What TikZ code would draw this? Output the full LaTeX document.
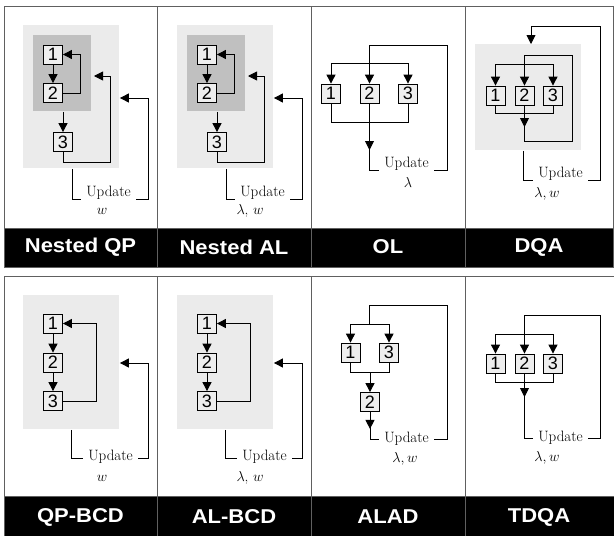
\documentclass[tikz,border=0pt]{standalone}
\usepackage{fontspec}
\newfontfamily\tagfont[FakeStretch=1.1]{Liberation Sans}
\newfontfamily\digfont{Liberation Sans}
\usetikzlibrary{arrows.meta,positioning,calc}
\definecolor{lgray}{HTML}{EBEBEB}
\definecolor{dgray}{HTML}{C0C0C0}
\definecolor{bgray}{HTML}{EEEEEE}
\definecolor{rulec}{HTML}{606060}

\begin{document}
\begin{tikzpicture}[x=1pt,y=-1pt,>={Triangle[length=9pt,width=9pt]},line width=0.9pt,
 blk/.style={draw,fill=bgray,minimum size=19pt,inner sep=0pt,line width=0.8pt,font=\digfont\fontsize{18}{18}\selectfont},
 outer/.style={fill=lgray,inner sep=0pt,anchor=north west},
 inner/.style={fill=dgray,inner sep=0pt,anchor=north west},
 upd/.style={font=\fontsize{15}{16}\selectfont,inner xsep=5pt,inner ysep=0pt,anchor=base},
 tag/.style={text=white,font=\tagfont\bfseries\fontsize{20}{20}\selectfont}]
\useasboundingbox (0,0) rectangle (614,536);
% frames
\fill (4,228) rectangle (613,267);\fill (4,496) rectangle (614,536);
\draw[rulec] (4,6) rectangle (613,267);\draw[rulec] (4,228) -- (613,228);
\draw[rulec] (4,276) rectangle (614,536);\draw[rulec] (4,496) -- (614,496);
\foreach \x in {157,311,465}{\draw[rulec] (\x,6) -- (\x,267);\draw[rulec] (\x,276) -- (\x,536);}
\node[tag] (tNQ) at (80.5,247) {Nested QP};\node[tag] (tNA) at (234,247) {Nested AL};
\node[tag] (tOL) at (388,247) {OL};\node[tag] (tDQ) at (539,247) {DQA};
\node[tag] (tQB) at (80.5,517) {QP-BCD};\node[tag] (tAB) at (234,517) {AL-BCD};
\node[tag] (tAD) at (388,517) {ALAD};\node[tag] (tTD) at (539,517) {TDQA};
% nested
\foreach \pn/\dx/\sx/\tx in {a/0/102/{$w$},b/154/96/{$\lambda$, $w$}}{
\begin{scope}[xshift=\dx pt]
\node[outer,minimum width=96pt,minimum height=143pt] (\pn O) at (23,25) {};
\node[inner,minimum width=58pt,minimum height=76pt] (\pn I) at (33,35) {};
\node[blk] (\pn1) at (53,54.5) {1};\node[blk] (\pn2) at (53,93) {2};\node[blk] (\pn3) at (63,142) {3};
\draw[->] (\pn1) -- (\pn2);\draw[->] (\pn2.east) -- ++(18,0) |- (\pn1.east);
\draw[->] (\pn I.south -| \pn3) -- (\pn3);
\draw[->] (\pn3.south) |- (110,162) |- (94,76);
\node[upd] (\pn U) at (108.5,196.2) {Update};\node[upd] (\pn V) at (\sx,214) {\tx};
\draw (\pn O.south -| 72,0) |- (\pn U.south west);
\draw[->] (\pn U.south east) -| (148,98) -- (\pn O.east |- 0,98);
\end{scope}}
% OL
\node[blk] (c1) at (331,93.5) {1};\node[blk] (c2) at (369.5,93.5) {2};\node[blk] (c3) at (408,93.5) {3};
\draw[->] (c2 |- 0,63) -| (c1);\draw[->] (c2 |- 0,63) -| (c3);
\draw (c1.south) -- ++(0,19) -| (c3.south);
\node[upd] (cU) at (406.5,167.2) {Update};\node[upd] (cV) at (408,187) {$\lambda$};
\draw[->] (c2.south) -- (369.5,150);\draw (c2.south) |- (cU.south west);
\draw[->] (cU.south east) -| (447,45) -| (c2.north);
% DQA
\node[outer,minimum width=106pt,minimum height=106pt] (dO) at (475,44) {};
\node[blk] (d1) at (495.5,95.5) {1};\node[blk] (d2) at (524.5,95.5) {2};\node[blk] (d3) at (553,95.5) {3};
\draw[->] (d2 |- 0,64) -| (d1);\draw[->] (d2 |- 0,64) -| (d3);
\draw (d1.south) -- ++(0,8) -| (d3.south);
\draw[->] (d2.south) -- (524.5,127);
\draw[->] (d2.south) |- (572,141) -- (572,55) -| (d2.north);
\node[upd] (dU) at (560.5,177.2) {Update};\node[upd] (dV) at (547,197) {$\lambda,w$};
\draw (dO.south -| 523,0) |- (dU.south west);
\draw[->] (dU.south east) -| (600,26) -| (dO.north -| 531,0);
% BCD
\foreach \pn/\dx/\sx/\tx in {e/0/102/{$w$},f/154/96/{$\lambda$, $w$}}{
\begin{scope}[xshift=\dx pt]
\node[outer,minimum width=96pt,minimum height=134pt] (\pn O) at (23,295) {};
\node[blk] (\pn1) at (53,323.5) {1};\node[blk] (\pn2) at (53,362.5) {2};\node[blk] (\pn3) at (53,401) {3};
\draw[->] (\pn1) -- (\pn2);\draw[->] (\pn2) -- (\pn3);
\draw[->] (\pn3.east) -- ++(34,0) |- (\pn1.east);
\node[upd] (\pn U) at (110.5,460.8) {Update};\node[upd] (\pn V) at (\sx,481) {\tx};
\draw (\pn O.south -| 71,0) |- (\pn U.mid west);
\draw[->] (\pn U.mid east) -| (148,363) -- (\pn O.east |- 0,363);
\end{scope}}
% ALAD
\node[blk] (g1) at (350.5,352.5) {1};\node[blk] (g3) at (389,352.5) {3};\node[blk] (g2) at (370,402) {2};
\coordinate (gT) at (369.5,324);
\draw[->] (gT) -| (g1);\draw[->] (gT) -| (g3);
\draw (g1.south) -- ++(0,10) -| (g3.south);\draw[->] (g2 |- 0,372) -- (g2);
\node[upd] (gU) at (406.5,442) {Update};\node[upd] (gV) at (405,462) {$\lambda,w$};
\draw[->] (g2.south) -- ++(0,17);\draw (g2.south) |- (gU.mid west);
\draw (gU.mid east) -| (447,305) -| (gT);
% TDQA
\node[blk] (h1) at (495.5,363.5) {1};\node[blk] (h2) at (524.5,363.5) {2};\node[blk] (h3) at (553,363.5) {3};
\draw[->] (h2 |- 0,334) -| (h1);\draw[->] (h2 |- 0,334) -| (h3);
\draw (h1.south) -- ++(0,9) -| (h3.south);
\node[upd] (hU) at (560.5,441) {Update};\node[upd] (hV) at (547,461.7) {$\lambda,w$};
\draw[->] (h2.south) -- (524.5,397);\draw (h2.south) |- (hU.mid west);
\draw[->] (hU.mid east) -| (600,315) -| (h2.north);
\end{tikzpicture}
\end{document}
